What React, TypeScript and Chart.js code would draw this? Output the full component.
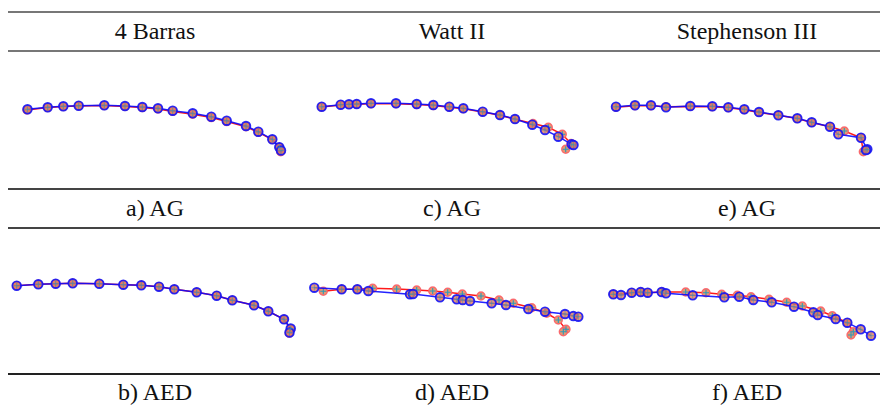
import React, { useEffect, useRef } from "react";
import { Chart, registerables } from "chart.js";
Chart.register(...registerables);

type P = [number, number];

// Column headers and panel captions
const columnTitles = ["4 Barras", "Watt II", "Stephenson III"];
const agCaptions = ["a) AG", "c) AG", "e) AG"];
const aedCaptions = ["b) AED", "d) AED", "f) AED"];

// a) 4 Barras – AG
const barrasAgRed: P[] = [
  [27, 110], [47.7, 107.6], [63.3, 106.6], [78.7, 106], [104.3, 105.6], [125, 106.5],
  [142.3, 107.6], [158, 109], [172.7, 111.4], [192.7, 114.2], [211.3, 117.6], [226.7, 121.6],
  [246, 126.8], [258.3, 132.4], [272.3, 139.6], [279.3, 147.3], [280.7, 151.7],
];
const barrasAgBlue: P[] = [
  [27.5, 109.3], [47.7, 107.3], [63.3, 106.3], [78.7, 105.7], [104.3, 105.3], [125, 106],
  [142.3, 107], [158, 108.3], [172.7, 110.7], [192.7, 113.3], [211.3, 116.7], [226.7, 120.7],
  [246, 126], [258.3, 131.7], [272.3, 139.3], [279.3, 147.3], [281, 150.5],
];

// b) 4 Barras – AED
const barrasAedRed: P[] = [
  [16.7, 285.7], [38.3, 284.3], [55.7, 283.7], [72.7, 283.3], [99.3, 283.7], [123.3, 284.7],
  [141.3, 285.3], [159, 286.7], [174.3, 289.3], [196.7, 292.3], [216.7, 295.7], [232.3, 300.3],
  [254, 305.3], [268.3, 311.3], [284, 319.3], [290.7, 329.3], [289.3, 333.3],
];
const barrasAedBlue: P[] = [
  [16.7, 285.7], [38.3, 284.3], [55.7, 283.7], [72.7, 283.3], [99.3, 283.7], [123.3, 284.7],
  [141.3, 285.3], [159, 286.7], [174.3, 289.3], [196.7, 292.3], [216.7, 295.7], [232.3, 300.3],
  [254, 305.3], [268.3, 311.3], [284, 319.3], [290.7, 328.5], [289.5, 332.5],
];

// c) Watt II – AG
const wattAgRed: P[] = [
  [321.7, 107], [340.7, 105], [349, 104.5], [356.7, 104.3], [371, 103.8], [396, 103.8],
  [416.7, 104.6], [433.3, 105.6], [449.3, 107.2], [463.3, 108.8], [482.7, 112], [500, 115.3],
  [515, 119.2], [533, 123.5], [548.3, 127.3], [562.3, 134.3], [571, 143.5], [565.7, 149.3],
];
const wattAgBlue: P[] = [
  [321.7, 106.7], [340.7, 104.7], [349, 104.3], [356.7, 104], [371, 103.3], [396, 103.3],
  [416.7, 104], [433.3, 105], [449.3, 106.7], [463.3, 108.3], [482.7, 111.7], [500, 115],
  [515, 119], [532.3, 124.7], [545, 130], [558.3, 136.7], [571.7, 144.3], [573.5, 145],
];

// d) Watt II – AED
const wattAedRed: P[] = [
  [323.3, 291.3], [341.7, 289.3], [357.3, 289.3], [372.7, 288.3], [396.7, 289], [416.7, 290],
  [432.7, 291], [447.7, 292.3], [462.3, 294], [481, 296], [499, 300], [513.3, 303.3],
  [531.7, 307.7], [546.7, 313.3], [558.3, 320], [566, 329.3], [563.3, 331.7],
];
const wattAedBlue: P[] = [
  [314.3, 287.7], [341.7, 289.3], [357.3, 289.3], [368.3, 291], [410, 294.3], [413, 294],
  [440, 297.3], [456.7, 299.3], [462.7, 300], [470, 301], [491.7, 303.3], [506, 305],
  [528.3, 309], [545, 311.7], [565, 314], [573.3, 316], [578.3, 316.7],
];

// e) Stephenson III – AG
const stephAgRed: P[] = [
  [616, 107.2], [635, 105.8], [651, 105.8], [666, 106.8], [690.3, 106.4], [712.3, 106.8],
  [728.3, 107.8], [744.3, 109.8], [759, 112.4], [778.3, 115.2], [797.3, 118.6], [811.7, 122.6],
  [830, 126.7], [844.3, 131], [861, 137.7], [863.3, 151.7],
];
const stephAgBlue: P[] = [
  [616, 106.7], [635, 105.3], [651, 105.3], [666, 107.3], [690.3, 106], [712.3, 106.3],
  [728.3, 107.3], [744.3, 109.3], [759, 112], [778.3, 115.3], [797.3, 118.3], [811.7, 122.3],
  [830, 126.7], [838.3, 134.3], [861, 137.7], [867.3, 149.3], [866, 150],
];

// f) Stephenson III – AED
const stephAedRed: P[] = [
  [613.3, 294.3], [631.7, 292.7], [640.7, 292], [647.7, 292.7], [661.7, 292], [685.7, 292],
  [706, 292.7], [721.7, 294.3], [737.3, 295.3], [751, 296.7], [769, 299.3], [786.7, 302.3],
  [802.3, 306], [820.7, 311], [832.3, 315.7], [847.3, 322.7], [853.3, 331.7], [851, 335],
];
const stephAedBlue: P[] = [
  [613.3, 294.3], [621, 295], [631.7, 292.7], [640.7, 292], [647.7, 292.7], [661.7, 292],
  [666, 293.3], [692.7, 295.3], [724.3, 297.3], [739.3, 296.7], [753.3, 300], [771.7, 302.3],
  [794, 306.7], [813.3, 312.3], [817.7, 315], [835.7, 319], [847.3, 322.7], [860.7, 329.3],
  [871, 335.7],
];

const FONT = "'Liberation Serif', 'DejaVu Serif', serif";
const COLS = [
  { left: 8, width: 295 },
  { left: 303, width: 296 },
  { left: 599, width: 281 },
];
const COL_CENTERS = [155, 452, 747];
const ROW_AG = { top: 53, height: 135 };
const ROW_AED = { top: 230, height: 143 };

function Panel(props: { left: number; top: number; width: number; height: number; red: P[]; blue: P[] }) {
  const { left, top, width, height, red, blue } = props;
  const ref = useRef<HTMLCanvasElement>(null);
  useEffect(() => {
    const toXY = (arr: P[]) => arr.map(([x, y]) => ({ x, y }));
    const cross = (arr: P[], order: number, color: string, w: number) => ({
      data: toXY(arr),
      showLine: false,
      pointStyle: "cross" as const,
      pointRadius: 3,
      pointBorderColor: color,
      pointBorderWidth: w,
      order,
    });
    const chart = new Chart(ref.current!, {
      type: "scatter",
      data: {
        datasets: [
          cross(blue, 0, "rgba(40,150,185,0.6)", 0.9),
          {
            data: toXY(blue),
            showLine: true,
            tension: 0,
            borderColor: "rgba(10,10,255,0.9)",
            borderWidth: 1.5,
            pointRadius: 4.3,
            pointBackgroundColor: "rgba(230,120,90,0.8)",
            pointBorderColor: "rgba(20,20,245,0.9)",
            pointBorderWidth: 1.9,
            order: 1,
          },
          cross(red, 2, "#2a9cb8", 1.1),
          {
            data: toXY(red),
            showLine: true,
            tension: 0,
            borderColor: "#ff1a1a",
            borderWidth: 1.5,
            pointRadius: 4,
            pointBackgroundColor: "#ec9670",
            pointBorderColor: "rgba(250,90,100,0.85)",
            pointBorderWidth: 1.4,
            order: 3,
          },
        ],
      },
      options: {
        responsive: false,
        animation: false,
        events: [],
        layout: { padding: 0, autoPadding: false },
        plugins: { legend: { display: false }, tooltip: { enabled: false } },
        scales: {
          x: { type: "linear", display: false, min: left, max: left + width },
          y: { type: "linear", display: false, min: top, max: top + height, reverse: true },
        },
      },
    });
    return () => chart.destroy();
  }, []);
  return (
    <canvas
      ref={ref}
      width={width}
      height={height}
      style={{ position: "absolute", left, top, width, height }}
    />
  );
}

function HLine({ y, color }: { y: number; color: string }) {
  return (
    <div style={{ position: "absolute", left: 8, top: y - 1, width: 872, height: 2, background: color }} />
  );
}

function Caption({ text, col, cy }: { text: string; col: number; cy: number }) {
  return (
    <div
      style={{
        position: "absolute",
        left: COL_CENTERS[col] - 150,
        width: 300,
        top: cy - 15,
        height: 30,
        lineHeight: "30px",
        textAlign: "center",
        fontFamily: FONT,
        fontSize: 24,
        color: "#111",
        whiteSpace: "nowrap",
      }}
    >
      {text}
    </div>
  );
}

export default function App() {
  const panelsAg = [
    { red: barrasAgRed, blue: barrasAgBlue },
    { red: wattAgRed, blue: wattAgBlue },
    { red: stephAgRed, blue: stephAgBlue },
  ];
  const panelsAed = [
    { red: barrasAedRed, blue: barrasAedBlue },
    { red: wattAedRed, blue: wattAedBlue },
    { red: stephAedRed, blue: stephAedBlue },
  ];
  return (
    <div style={{ position: "fixed", left: 0, top: 0, width: 880, height: 408, background: "#fff", overflow: "hidden" }}>
      <HLine y={12} color="#777" />
      <HLine y={51} color="#777" />
      <HLine y={189} color="#444" />
      <HLine y={228} color="#444" />
      <HLine y={374} color="#222" />
      {columnTitles.map((t, i) => (
        <Caption key={"h" + i} text={t} col={i} cy={31} />
      ))}
      {agCaptions.map((t, i) => (
        <Caption key={"a" + i} text={t} col={i} cy={208} />
      ))}
      {aedCaptions.map((t, i) => (
        <Caption key={"b" + i} text={t} col={i} cy={392} />
      ))}
      {panelsAg.map((p, i) => (
        <Panel key={"pa" + i} left={COLS[i].left} top={ROW_AG.top} width={COLS[i].width} height={ROW_AG.height} red={p.red} blue={p.blue} />
      ))}
      {panelsAed.map((p, i) => (
        <Panel key={"pb" + i} left={COLS[i].left} top={ROW_AED.top} width={COLS[i].width} height={ROW_AED.height} red={p.red} blue={p.blue} />
      ))}
    </div>
  );
}
